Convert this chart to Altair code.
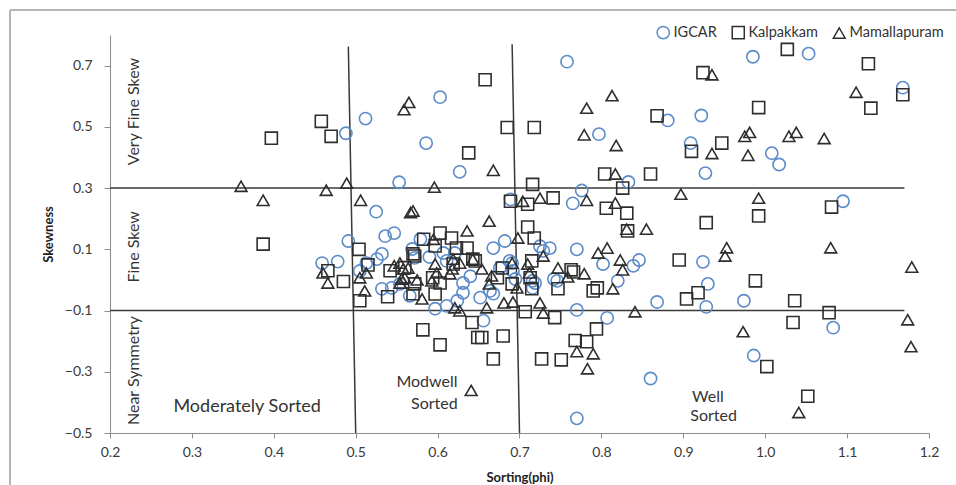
import altair as alt
import pandas as pd

# ---------------- data ----------------
igcar_x = [0.488, 0.512, 0.603, 0.586, 0.553, 0.627, 0.525, 0.536, 0.547, 0.491,
           0.579, 0.758, 0.985, 1.053, 1.168, 0.881, 0.922, 0.797, 0.909, 1.008,
           1.017, 0.927, 0.833, 0.776, 0.765, 0.689, 1.095, 0.668, 0.682, 0.725,
           0.737, 0.770, 0.924, 0.930, 0.928, 0.868, 0.974, 1.083, 0.986, 0.860,
           0.770, 0.770, 0.807, 0.820, 0.846, 0.839, 0.802, 0.719, 0.742, 0.656,
           0.668, 0.664, 0.676, 0.691, 0.459, 0.532, 0.526, 0.513, 0.569, 0.572,
           0.607, 0.611, 0.505, 0.532, 0.544, 0.566, 0.554, 0.597, 0.611, 0.624,
           0.729, 0.688, 0.621, 0.631, 0.631, 0.652, 0.692, 0.695, 0.716, 0.716,
           0.746, 0.640, 0.590, 0.478]
igcar_y = [0.479, 0.527, 0.597, 0.447, 0.319, 0.353, 0.223, 0.143, 0.153, 0.127,
           0.133, 0.713, 0.729, 0.739, 0.628, 0.521, 0.537, 0.476, 0.447, 0.414,
           0.377, 0.349, 0.320, 0.292, 0.250, 0.263, 0.257, 0.104, 0.127, 0.110,
           0.104, 0.100, 0.059, -0.013, -0.088, -0.072, -0.068, -0.156, -0.247, -0.322,
           -0.452, -0.098, -0.124, -0.003, 0.065, 0.046, 0.052, -0.010, 0.003, -0.133,
           -0.045, -0.036, 0.039, 0.055, 0.055, 0.085, 0.068, 0.055, 0.101, 0.072,
           0.088, 0.062, 0.029, -0.029, -0.026, -0.052, -0.013, -0.094, -0.085, -0.068,
           0.095, 0.062, 0.088, -0.010, -0.042, -0.058, 0.029, 0.003, -0.003, -0.026,
           -0.003, 0.012, 0.075, 0.060]

kalp_x = [0.397, 0.458, 0.470, 0.638, 0.658, 0.387, 0.504, 0.583, 0.603, 0.617,
          0.636, 1.027, 1.126, 0.924, 1.129, 1.168, 0.992, 0.868, 0.685, 0.718,
          0.947, 0.910, 0.804, 0.860, 0.716, 0.826, 0.741, 0.689, 0.710, 0.806,
          0.831, 1.081, 0.992, 0.928, 0.710, 0.832, 0.718, 0.895, 0.988, 0.918,
          0.904, 1.036, 1.078, 1.034, 1.002, 1.052, 0.707, 0.743, 0.794, 0.768,
          0.782, 0.727, 0.751, 0.668, 0.680, 0.654, 0.763, 0.766, 0.790, 0.795,
          0.747, 0.715, 0.582, 0.603, 0.642, 0.466, 0.485, 0.515, 0.505, 0.539,
          0.542, 0.572, 0.597, 0.603, 0.597, 0.623, 0.643, 0.560, 0.572, 0.570,
          0.570, 0.594, 0.646, 0.679, 0.673, 0.715, 0.713, 0.619, 0.691, 0.649]
kalp_y = [0.463, 0.518, 0.469, 0.415, 0.654, 0.117, 0.100, 0.133, 0.153, 0.137,
          0.104, 0.753, 0.706, 0.677, 0.561, 0.605, 0.563, 0.536, 0.498, 0.498,
          0.447, 0.420, 0.346, 0.346, 0.312, 0.300, 0.268, 0.257, 0.247, 0.234,
          0.218, 0.238, 0.209, 0.187, 0.173, 0.160, 0.137, 0.065, -0.003, -0.042,
          -0.062, -0.068, -0.107, -0.139, -0.283, -0.380, -0.104, -0.123, -0.160, -0.198,
          -0.202, -0.258, -0.261, -0.258, -0.183, -0.188, 0.033, 0.026, -0.036, -0.026,
          -0.029, -0.029, -0.163, -0.212, -0.139, 0.030, -0.005, 0.049, -0.068, -0.055,
          0.030, 0.078, 0.111, -0.010, -0.046, 0.104, 0.068, 0.040, -0.013, -0.045,
          0.085, 0.007, 0.062, 0.039, 0.007, 0.062, 0.007, 0.052, -0.013, -0.188]

mam_x = [0.360, 0.387, 0.464, 0.489, 0.506, 0.565, 0.559, 0.570, 0.567, 0.596,
         0.636, 0.595, 0.935, 0.813, 0.782, 1.111, 0.779, 0.818, 0.975, 0.981,
         1.029, 1.038, 1.072, 0.935, 0.979, 0.668, 0.817, 0.897, 0.992, 0.704,
         0.725, 0.782, 0.817, 0.663, 0.831, 0.855, 0.698, 0.953, 1.080, 0.796,
         0.807, 1.179, 1.174, 1.178, 1.041, 0.973, 0.841, 0.770, 0.790, 0.783,
         0.729, 0.725, 0.814, 0.826, 0.823, 0.779, 0.759, 0.747, 0.712, 0.710,
         0.697, 0.681, 0.692, 0.660, 0.663, 0.654, 0.691, 0.729, 0.951, 0.460,
         0.466, 0.513, 0.511, 0.547, 0.558, 0.564, 0.556, 0.581, 0.597, 0.619,
         0.615, 0.627, 0.641, 0.505, 0.554, 0.560, 0.554, 0.575, 0.599, 0.593,
         0.618, 0.621, 0.627, 0.643, 0.666]
mam_y = [0.306, 0.260, 0.293, 0.316, 0.260, 0.580, 0.556, 0.225, 0.220, 0.303,
         0.160, 0.133, 0.670, 0.602, 0.561, 0.613, 0.474, 0.439, 0.469, 0.482,
         0.469, 0.482, 0.462, 0.413, 0.407, 0.358, 0.346, 0.280, 0.267, 0.257,
         0.267, 0.260, 0.251, 0.192, 0.166, 0.166, 0.137, 0.105, 0.105, 0.088,
         0.104, 0.042, -0.130, -0.218, -0.433, -0.169, -0.104, -0.234, -0.241, -0.290,
         -0.108, -0.075, -0.029, 0.033, 0.065, 0.020, 0.010, 0.039, 0.023, 0.052,
         -0.026, -0.075, -0.072, -0.091, -0.013, 0.036, 0.055, 0.078, 0.078, 0.023,
         -0.010, 0.023, -0.036, 0.046, 0.036, 0.039, 0.003, -0.062, 0.052, 0.068,
         0.020, -0.101, -0.361, 0.007, 0.055, 0.007, -0.010, 0.000, 0.023, -0.003,
         0.036, -0.091, 0.055, 0.068, 0.013]

series_names = ["IGCAR", "Kalpakkam", "Mamallapuram"]
x_ticks = [0.2, 0.3, 0.4, 0.5, 0.6, 0.7, 0.8, 0.9, 1.0, 1.1, 1.2]
y_ticks = [-0.5, -0.3, -0.1, 0.1, 0.3, 0.5, 0.7]

# class boundaries
h_lines_y = [0.3, -0.1]
h_lines_x_start = [0.2, 0.2]
h_lines_x_end = [1.17, 1.17]
v_lines_x_top = [0.491, 0.691]
v_lines_x_bottom = [0.5, 0.7]
v_lines_y_top = [0.762, 0.77]
v_lines_y_bottom = [-0.5, -0.5]

# region labels
vert_labels = ["Very Fine Skew", "Fine Skew", "Near Symmetry"]
vert_x = [0.229, 0.229, 0.229]
vert_y = [0.55, 0.108, -0.296]
big_label = ["Moderately Sorted"]
big_x = [0.3675]
big_y = [-0.414]
horiz_labels = ["Modwell", "Sorted", "Well", "Sorted"]
horiz_x = [0.587, 0.596, 0.930, 0.937]
horiz_y = [-0.335, -0.404, -0.381, -0.446]

# ---------------- tables ----------------
pts = pd.concat([
    pd.DataFrame({"x": igcar_x, "y": igcar_y, "s": "IGCAR"}),
    pd.DataFrame({"x": kalp_x, "y": kalp_y, "s": "Kalpakkam"}),
    pd.DataFrame({"x": mam_x, "y": mam_y, "s": "Mamallapuram"}),
], ignore_index=True)
pts["o"] = pts["s"].map({n: i for i, n in enumerate(series_names)})

hl = pd.DataFrame({"x": h_lines_x_start, "x2": h_lines_x_end, "y": h_lines_y})
vl = pd.DataFrame({"x": v_lines_x_top, "x2": v_lines_x_bottom,
                   "y": v_lines_y_top, "y2": v_lines_y_bottom})
vt = pd.DataFrame({"t": vert_labels, "x": vert_x, "y": vert_y})
bt = pd.DataFrame({"t": big_label, "x": big_x, "y": big_y})
ht = pd.DataFrame({"t": horiz_labels, "x": horiz_x, "y": horiz_y})

FONT = "Lato"
xs = alt.Scale(domain=[0.2, 1.2], nice=False, zero=False)
ys = alt.Scale(domain=[-0.5, 0.8], nice=False, zero=False)

xaxis = alt.Axis(values=x_ticks, format=".1f", grid=False, title="Sorting(phi)",
                 labelFontSize=14, labelFont=FONT, labelColor="#3a3a3a",
                 titleFontSize=13, titleFont=FONT, titleFontWeight="bold", titleColor="#222",
                 titleY=44, titleBaseline="middle",
                 domainColor="#8c8c8c", tickColor="#8c8c8c", tickSize=5, labelPadding=7,
                 labelFlush=False)
yaxis = alt.Axis(values=y_ticks, format=".1f", grid=False, title="Skewness",
                 labelFontSize=14, labelFont=FONT, labelColor="#3a3a3a",
                 titleFontSize=13, titleFont=FONT, titleFontWeight="bold", titleColor="#222",
                 titleX=-62, titleBaseline="middle",
                 domainColor="#8c8c8c", tickColor="#8c8c8c", tickSize=6, labelPadding=12,
                 labelFlush=False)

leg = alt.Legend(title=None, orient="none", direction="horizontal",
                 legendX=546, legendY=-10, labelFont=FONT,
                 labelFontSize=14.5, labelColor="#333",
                 symbolSize=120, symbolStrokeWidth=1.5,
                 columnPadding=12, labelOffset=3)

points = alt.Chart(pts).mark_point(filled=False, strokeWidth=1.6, opacity=1).encode(
    x=alt.X("x:Q", scale=xs, axis=xaxis),
    y=alt.Y("y:Q", scale=ys, axis=yaxis),
    shape=alt.Shape("s:N", scale=alt.Scale(domain=series_names,
                                           range=["circle", "square", "triangle-up"]),
                    legend=leg),
    color=alt.Color("s:N", scale=alt.Scale(domain=series_names,
                                           range=["#5b8bc9", "#2e2e2e", "#2e2e2e"]),
                    legend=leg),
    size=alt.Size("s:N", scale=alt.Scale(domain=series_names, range=[150, 140, 175]),
                  legend=None),
    order=alt.Order("o:Q"),
)

hrules = alt.Chart(hl).mark_rule(color="#3a3a3a", strokeWidth=1.5).encode(
    x=alt.X("x:Q", scale=xs), x2="x2:Q", y=alt.Y("y:Q", scale=ys))
vrules = alt.Chart(vl).mark_rule(color="#3a3a3a", strokeWidth=1.5).encode(
    x=alt.X("x:Q", scale=xs), x2="x2:Q", y=alt.Y("y:Q", scale=ys), y2="y2:Q")

vtext = alt.Chart(vt).mark_text(angle=270, font=FONT, fontSize=16, color="#333",
                                baseline="middle", align="center").encode(
    x=alt.X("x:Q", scale=xs), y=alt.Y("y:Q", scale=ys), text="t:N")
btext = alt.Chart(bt).mark_text(font=FONT, fontSize=18, color="#333",
                                baseline="middle", align="center").encode(
    x=alt.X("x:Q", scale=xs), y=alt.Y("y:Q", scale=ys), text="t:N")
htext = alt.Chart(ht).mark_text(font=FONT, fontSize=16, color="#333",
                                baseline="middle", align="center").encode(
    x=alt.X("x:Q", scale=xs), y=alt.Y("y:Q", scale=ys), text="t:N")

border_left = alt.Chart(hl).mark_rule(color="#b0b0b0", strokeWidth=1.5).encode(
    x=alt.value(-100), y=alt.value(-25), y2=alt.value(460))
border_top = alt.Chart(hl).mark_rule(color="#b0b0b0", strokeWidth=1.5).encode(
    x=alt.value(-100), x2=alt.value(860), y=alt.value(-25))

chart = alt.layer(border_left, border_top, hrules, vrules, vtext, btext, htext, points).properties(
    width=819, height=398,
    padding={"left": 110, "top": 35, "right": 27, "bottom": 52},
    autosize=alt.AutoSizeParams(type="none"),
    background="white",
).configure_view(strokeWidth=0)

chart.save("out.html", embed_options={"renderer": "svg", "actions": False})
